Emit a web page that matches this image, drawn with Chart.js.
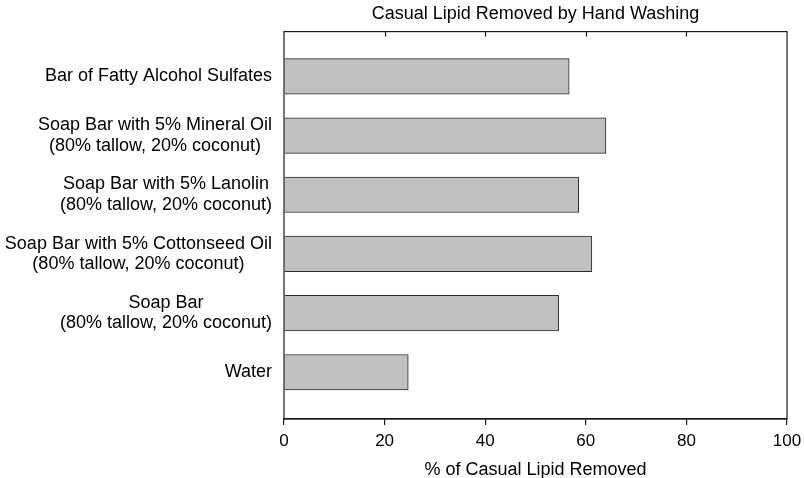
<!DOCTYPE html>
<html>
<head>
<meta charset="utf-8">
<script src="https://cdn.jsdelivr.net/npm/chart.js@4"></script>
<style>
  html, body { margin: 0; padding: 0; background: #fff; }
  #wrap { width: 804px; height: 478px; }
</style>
</head>
<body>
<div id="wrap"><canvas id="chart" width="804" height="478"></canvas></div>
<script>
// ── data ──
const categories = [
  ["Bar of Fatty Alcohol Sulfates"],
  ["Soap Bar with 5% Mineral Oil", "(80% tallow, 20% coconut)"],
  ["Soap Bar with 5% Lanolin", "(80% tallow, 20% coconut)"],
  ["Soap Bar with 5% Cottonseed Oil", "(80% tallow, 20% coconut)"],
  ["Soap Bar", "(80% tallow, 20% coconut)"],
  ["Water"]
];
const lipidRemoved = [56.7, 64, 58.6, 61.2, 54.6, 24.7];
const xTicks       = [0, 20, 40, 60, 80, 100];

const FONT = "'Liberation Sans', Arial, Helvetica, sans-serif";
const INK  = "#1a1a1a";

// ── frame + top ticks + y labels ──
const framePlugin = {
  id: "frame",
  afterDraw(chart) {
    const { ctx, chartArea: a, scales } = chart;
    ctx.save();
    ctx.strokeStyle = INK;
    ctx.lineWidth = 1.2;
    ctx.strokeRect(a.left, a.top, a.right - a.left, a.bottom - a.top);

    // inward ticks on top edge
    xTicks.slice(1, -1).forEach(v => {
      const x = Math.round(scales.x.getPixelForValue(v)) + 0.5;
      ctx.beginPath();
      ctx.moveTo(x, a.top);
      ctx.lineTo(x, a.top + 5);
      ctx.stroke();
    });

    // category labels: block right-aligned, lines centred
    ctx.font = "18px " + FONT;
    ctx.fillStyle = "#000";
    ctx.textAlign = "center";
    ctx.textBaseline = "middle";
    const lh = 20.5;
    categories.forEach((lines, i) => {
      const cy = scales.y.getPixelForValue(i);
      const w  = Math.max(...lines.map(l => ctx.measureText(l).width));
      const cx = a.left - 12 - w / 2;
      lines.forEach((l, k) => {
        ctx.fillText(l, cx, cy + (k - (lines.length - 1) / 2) * lh);
      });
    });
    ctx.restore();
  }
};

new Chart(document.getElementById("chart"), {
  type: "bar",
  data: {
    datasets: [{
      data: lipidRemoved.map((v, i) => ({ x: v, y: i })),
      backgroundColor: "#c0c0c0",
      borderColor: "#2a2a2a",
      borderWidth: 1,
      barThickness: 35.5
    }]
  },
  options: {
    indexAxis: "y",
    responsive: false,
    animation: false,
    layout: { padding: { left: 284, right: 17, top: 0, bottom: -3 } },
    plugins: {
      legend: { display: false },
      tooltip: { enabled: false },
      title: {
        display: true,
        fullSize: false,
        text: "Casual Lipid Removed by Hand Washing",
        color: "#000",
        font: { family: FONT, size: 18, weight: "normal" },
        padding: { top: 3, bottom: 7 }
      }
    },
    scales: {
      y: {
        type: "linear",
        display: false,
        offset: false,
        reverse: true,
        min: -0.757,
        max: 5.79
      },
      x: {
        type: "linear",
        min: 0,
        max: 100,
        afterBuildTicks: s => { s.ticks = xTicks.map(v => ({ value: v })); },
        afterFit: s => { s.paddingLeft = 0; s.paddingRight = 0; },
        grid: { drawOnChartArea: false, drawTicks: true, tickLength: 6, color: INK, lineWidth: 1.2 },
        border: { display: true, color: INK, width: 1.2 },
        ticks: { color: "#000", padding: 6, font: { family: FONT, size: 17 } },
        title: {
          display: true,
          text: "% of Casual Lipid Removed",
          color: "#000",
          font: { family: FONT, size: 18 },
          padding: { top: 2, bottom: 0 }
        }
      }
    }
  },
  plugins: [framePlugin]
});
</script>
</body>
</html>
